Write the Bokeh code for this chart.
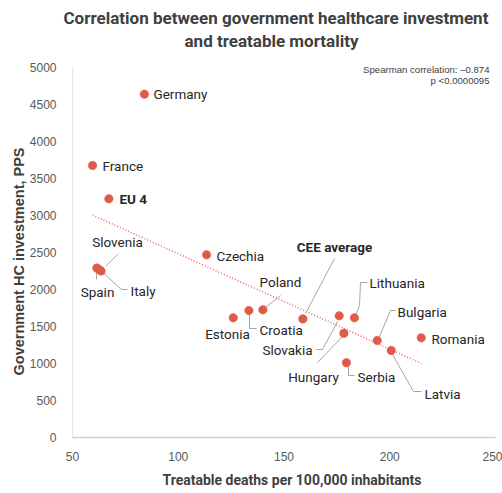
import numpy as np
from bokeh.plotting import figure
from bokeh.models import Label, Range1d, FixedTicker, ColumnDataSource, Title
from bokeh.embed import file_html
from bokeh.resources import INLINE

# Treatable deaths per 100,000 inhabitants vs government healthcare investment (PPS)
countries = ["Germany", "France", "EU 4", "Slovenia", "Spain", "Italy", "Czechia",
             "Poland", "Croatia", "Estonia", "CEE average", "Lithuania", "Slovakia",
             "Hungary", "Serbia", "Bulgaria", "Latvia", "Romania"]
treatable_deaths = [84, 59.5, 67.2, 61.5, 62.5, 63.5, 113.4,
                    140, 133.4, 126, 158.9, 183.3, 176.1,
                    178.3, 179.5, 194.1, 200.7, 214.9]
hc_investment = [4640, 3676, 3225, 2290, 2270, 2250, 2469,
                 1725, 1716, 1617, 1603, 1617, 1644,
                 1409, 1009, 1311, 1176, 1347]
bold_labels = ["EU 4", "CEE average"]

x_ticks = [50, 100, 150, 200, 250]
y_ticks = [0, 500, 1000, 1500, 2000, 2500, 3000, 3500, 4000, 4500, 5000]
X_MIN, X_MAX, Y_MIN, Y_MAX = 50, 250, 0, 5000

title_lines = ["Correlation between government healthcare investment",
               "and treatable mortality"]
x_title = "Treatable deaths per 100,000 inhabitants"
y_title = "Government HC investment, PPS"
stat_lines = ["Spearman correlation: \u20130.874", "p <0.0000095"]

# canvas geometry: axes box from x=72..495, y=67..437 (pixels)
W, H = 502, 493
AX_L, AX_R, AX_T, AX_B = 72, 495, 67, 437
FRAME_T = 28  # frame reaches above the axis to hold the note and second title line
sx = (AX_R - AX_L) / (X_MAX - X_MIN)
sy = (AX_B - AX_T) / (Y_MAX - Y_MIN)
def dx(xp):
    return X_MIN + (xp - AX_L) / sx
def dy(yp):
    return Y_MIN + (AX_B - yp) / sy

p = figure(width=W, height=H, output_backend="svg", toolbar_location=None,
           x_range=Range1d(X_MIN, X_MAX), y_range=Range1d(Y_MIN, dy(FRAME_T)),
           min_border_left=AX_L, min_border_right=W - AX_R,
           min_border_top=FRAME_T, min_border_bottom=H - AX_B)
p.outline_line_color = None
p.background_fill_color = "white"
p.border_fill_color = "white"
p.xgrid.grid_line_color = None
p.ygrid.grid_line_color = None

for ax in (p.xaxis, p.yaxis):
    ax.axis_line_color = "#D0D0D0"
    ax.axis_line_width = 1.3
    ax.major_tick_line_color = None
    ax.minor_tick_line_color = None
    ax.major_label_text_font = "Liberation Sans"
    ax.major_label_text_font_size = "12px"
    ax.major_label_text_color = "#595959"
p.yaxis.axis_line_color = None
p.xaxis.ticker = FixedTicker(ticks=x_ticks)
p.yaxis.ticker = FixedTicker(ticks=y_ticks)
p.xaxis.major_label_standoff = 8
p.yaxis.major_label_standoff = 10

# vertical axis line only up to the top tick
p.line([X_MIN, X_MIN], [Y_MIN, Y_MAX], line_color="#D0D0D0", line_width=1.3)

# axis titles (left-aligned with pixel offsets from the frame edge)
p.add_layout(Title(text=x_title, align="left", offset=162 - AX_L,
                   text_font="Roboto", text_font_size="14px", text_font_style="bold",
                   text_color="#404040", standoff=12), "below")
p.add_layout(Title(text=y_title, align="left", offset=AX_B - 375,
                   text_font="Liberation Sans", text_font_size="14.5px",
                   text_font_style="bold", text_color="#404040", standoff=0), "left")

# chart title: first line above the frame, second line inside the top band
p.add_layout(Title(text=title_lines[0], align="left", offset=63 - AX_L,
                   text_font="Roboto", text_font_size="17px", text_font_style="bold",
                   text_color="#404040", standoff=2), "above")
p.add_layout(Label(x=dx(271), y=dy(40), text=title_lines[1], text_font="Roboto",
                   text_font_size="17px", text_font_style="bold", text_color="#404040",
                   text_align="center", text_baseline="middle"))

# linear trend over all points
xs = np.array(treatable_deaths, dtype=float)
ys = np.array(hc_investment, dtype=float)
slope, intercept = np.polyfit(xs, ys, 1)
tx = np.array([xs.min(), xs.max()])
p.line(tx, slope * tx + intercept, line_color="#EE6B78", line_width=1.6,
       line_dash="1 2")

# leader lines, in pixel positions on the canvas
leaders = {
    "Slovenia": [(105, 266), (118, 253)],
    "Spain": [(96, 272), (96, 279)],
    "Italy": [(100, 270), (121, 289), (127, 289)],
    "Poland": [(280, 295), (265, 307)],
    "Croatia": [(249, 312), (249, 328), (256, 328)],
    "CEE average": [(334, 258), (305, 313)],
    "Lithuania": [(367, 282), (360, 282), (359, 305), (356, 313)],
    "Slovakia": [(316, 349), (322, 349), (337, 321)],
    "Hungary": [(317, 362), (342, 336)],
    "Serbia": [(348, 366), (348, 375), (354, 375)],
    "Bulgaria": [(395, 310), (390, 310), (379, 336)],
    "Latvia": [(392, 354), (413, 391), (421, 391)],
}
for name, pts in leaders.items():
    p.line([dx(a) for a, b in pts], [dy(b) for a, b in pts],
           line_color="#A6A6A6", line_width=1)

src = ColumnDataSource(dict(x=treatable_deaths, y=hc_investment))
p.scatter("x", "y", source=src, size=8.5, fill_color="#E05A4A",
          line_color="#E05A4A", line_width=0.5)

# label anchors (pixel) and alignment
label_pos = {
    "Germany": (153, 93, "left"),
    "France": (102, 165, "left"),
    "EU 4": (119, 198, "left"),
    "Slovenia": (117, 241, "center"),
    "Spain": (97, 291, "center"),
    "Italy": (130, 290, "left"),
    "Czechia": (216, 255, "left"),
    "Poland": (280, 281, "center"),
    "Croatia": (259, 329, "left"),
    "Estonia": (227, 333, "center"),
    "CEE average": (334, 246, "center"),
    "Lithuania": (369, 282, "left"),
    "Slovakia": (287, 349, "center"),
    "Hungary": (313, 376, "center"),
    "Serbia": (357, 376, "left"),
    "Bulgaria": (397, 311, "left"),
    "Latvia": (424, 393, "left"),
    "Romania": (431, 338, "left"),
}
for name in countries:
    lx, ly, al = label_pos[name]
    p.add_layout(Label(x=dx(lx), y=dy(ly), text=name, text_font="Roboto",
                       text_font_size="13.5px", text_color="#262626",
                       text_align=al, text_baseline="middle",
                       text_font_style="bold" if name in bold_labels else "normal"))

# statistics note
for t, yy in zip(stat_lines, [69, 80]):
    p.add_layout(Label(x=dx(489), y=dy(yy), text=t, text_font="Liberation Sans",
                       text_font_size="9.6px", text_color="#404040",
                       text_align="right", text_baseline="middle"))

open("out.html", "w").write(file_html(p, INLINE))
